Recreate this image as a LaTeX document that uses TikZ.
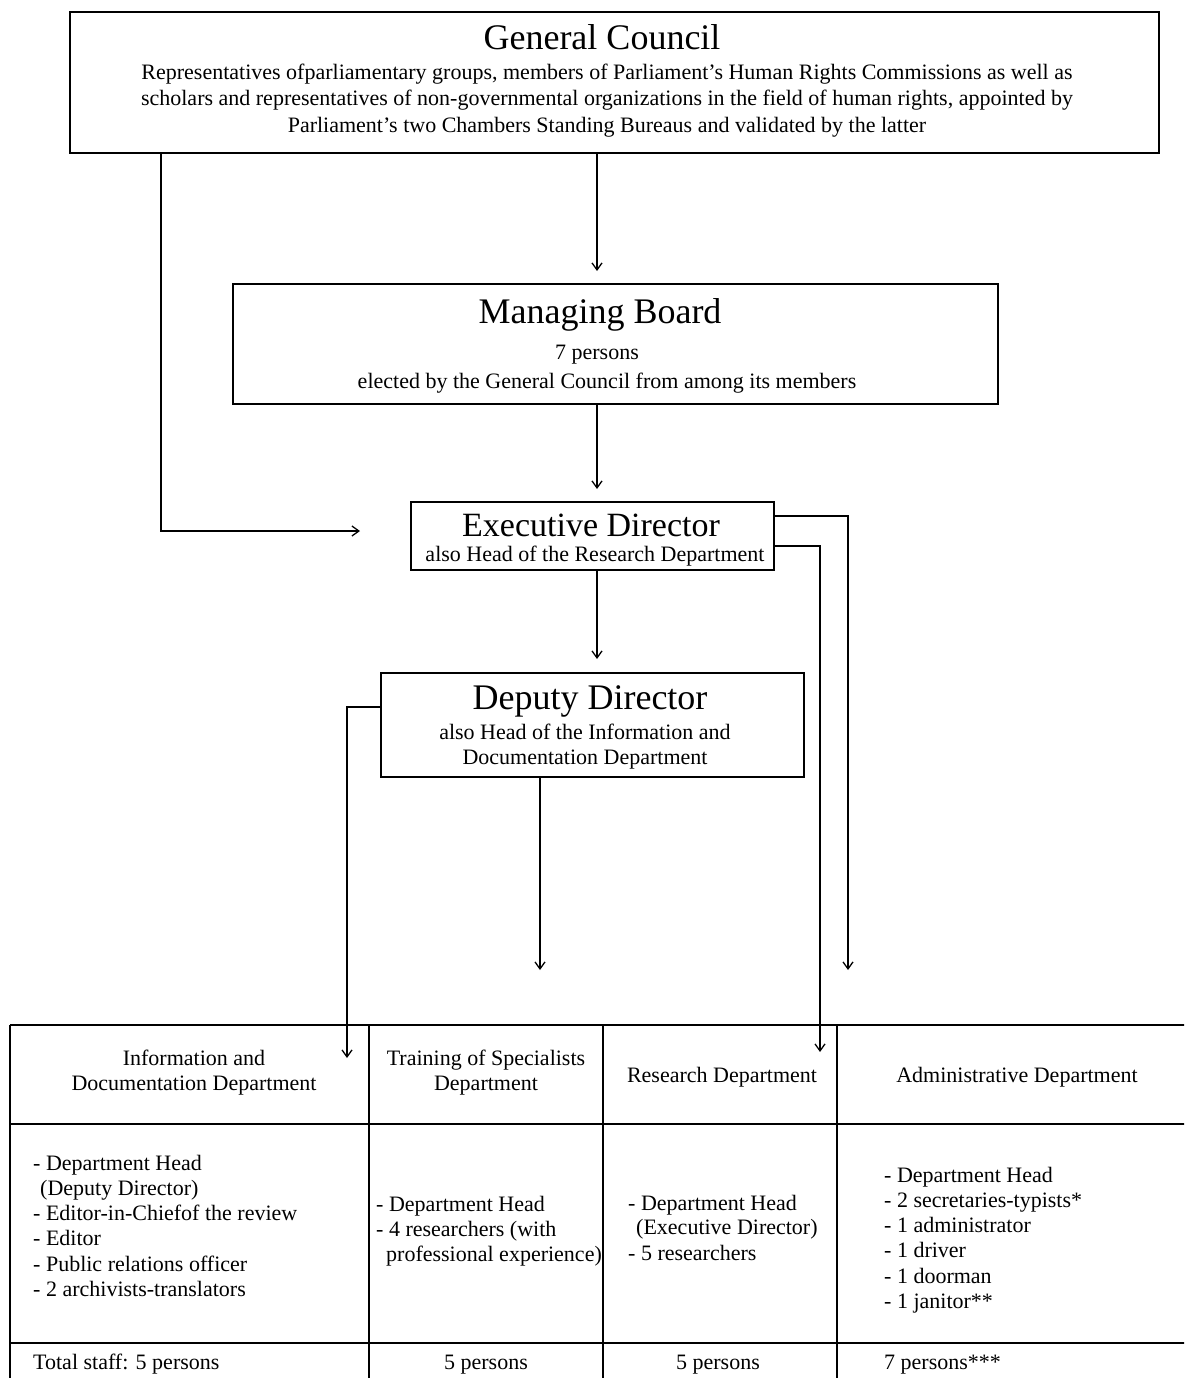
\documentclass[tikz,border=0pt]{standalone}
\usepackage{fontspec}
\setmainfont{Liberation Serif}
\usetikzlibrary{arrows.meta}
\begin{document}
\begin{tikzpicture}[x=1pt,y=-1pt,
  box/.style={draw,line width=1.1pt,rectangle,inner sep=0pt},
  ttl/.style={anchor=base,inner sep=0pt,font=\fontsize{36}{40}\selectfont},
  txt/.style={anchor=base,inner sep=0pt,font=\fontsize{22}{26}\selectfont},
  ltxt/.style={anchor=base west,inner sep=0pt,font=\fontsize{22}{26}\selectfont},
  conn/.style={line width=1.1pt,-{Straight Barb[length=7pt,width=10pt,line width=1.3pt]}},
  thick conn/.style={conn,line width=2pt},
  grid/.style={line width=1.1pt}]
\clip (0,0) rectangle (1184,1378);
\fill[white] (0,0) rectangle (1184,1378);
% boxes
\node[box,minimum width=1089pt,minimum height=141pt] (gc) at (614.5,82.5) {};
\node[box,minimum width=765pt,minimum height=120pt] (mb) at (615.5,344) {};
\node[box,minimum width=363pt,minimum height=68pt] (ed) at (592.5,536) {};
\node[box,minimum width=423pt,minimum height=104pt] (dd) at (592.5,725) {};
% texts
\node[ttl] (gct) at (602,50) {General Council};
\node[txt] (gc1) at (607,80) {Representatives ofparliamentary groups, members of Parliament’s Human Rights Commissions as well as};
\node[txt] (gc2) at (607,106) {scholars and representatives of non-governmental organizations in the field of human rights, appointed by};
\node[txt] (gc3) at (607,132) {Parliament’s two Chambers Standing Bureaus and validated by the latter};
\node[ttl] (mbt) at (600,323) {Managing Board};
\node[txt] (mb1) at (597,359) {7 persons};
\node[txt] (mb2) at (607,388) {elected by the General Council from among its members};
\node[ttl,font=\fontsize{34}{38}\selectfont] (edt) at (591,536) {Executive Director};
\node[txt] (ed1) at (595,561) {also Head of the Research Department};
\node[ttl] (ddt) at (590,709) {Deputy Director};
\node[txt] (dd1) at (585,739) {also Head of the Information and};
\node[txt] (dd2) at (585,764) {Documentation Department};
% table grid
\draw[grid] (10,1025) -- (1200,1025);
\draw[grid] (10,1124) -- (1200,1124);
\draw[grid] (10,1343) -- (1200,1343);
\foreach \x in {10,369,603,837} \draw[grid] (\x,1025) -- (\x,1400);
% header texts
\node[txt] (h1a) at (194,1065) {Information and};
\node[txt] (h1b) at (194,1090) {Documentation Department};
\node[txt] (h2a) at (486,1065) {Training of Specialists};
\node[txt] (h2b) at (486,1090) {Department};
\node[txt] (h3) at (722,1082) {Research Department};
\node[txt] (h4) at (1017,1082) {Administrative Department};
% data column 1
\node[ltxt] (a1) at (33,1170) {- Department Head};
\node[ltxt] (a2) at (40,1195) {(Deputy Director)};
\node[ltxt] (a3) at (33,1220) {- Editor-in-Chiefof the review};
\node[ltxt] (a4) at (33,1245) {- Editor};
\node[ltxt] (a5) at (33,1271) {- Public relations officer};
\node[ltxt] (a6) at (33,1296) {- 2 archivists-translators};
% column 2
\node[ltxt] (b1) at (376,1211) {- Department Head};
\node[ltxt] (b2) at (376,1236) {- 4 researchers (with};
\node[ltxt] (b3) at (386,1261) {professional experience)};
% column 3
\node[ltxt] (c1) at (628,1210) {- Department Head};
\node[ltxt] (c2) at (636,1234) {(Executive Director)};
\node[ltxt] (c3) at (628,1260) {- 5 researchers};
% column 4
\node[ltxt] (d1) at (884,1182) {- Department Head};
\node[ltxt] (d2) at (884,1207) {- 2 secretaries-typists*};
\node[ltxt] (d3) at (884,1232) {- 1 administrator};
\node[ltxt] (d4) at (884,1257) {- 1 driver};
\node[ltxt] (d5) at (884,1283) {- 1 doorman};
\node[ltxt] (d6) at (884,1308) {- 1 janitor**};
% footer
\node[ltxt] (f1) at (33,1369) {Total staff: 5 persons};
\node[txt] (f2) at (486,1369) {5 persons};
\node[txt] (f3) at (718,1369) {5 persons};
\node[ltxt] (f4) at (884,1369) {7 persons***};
% connector end coordinates
\coordinate (eMB) at (597,271);
\coordinate (eED) at (597,489);
\coordinate (eEDl) at (360,531);
\coordinate (eDD) at (597,659);
\coordinate (eInfo) at (347,1058);
\coordinate (eTrain) at (540,970);
\coordinate (eAdmin) at (848,970);
\coordinate (eRes) at (820,1052);
% connectors
\draw[conn] (gc.south -| eMB) -- (eMB);
\draw[conn] (mb.south -| eED) -- (eED);
\draw[conn] (gc.south -| 161,0) -- (161,531) -- (eEDl);
\draw[conn] (ed.south -| eDD) -- (eDD);
\draw[conn] (dd.west |- 0,707) -- (347,707) -- (eInfo);
\draw[conn] (dd.south -| eTrain) -- (eTrain);
\draw[thick conn] (ed.east |- 0,516) -- (848,516) -- (eAdmin);
\draw[conn] (ed.east |- 0,546) -- (820,546) -- (eRes);
\end{tikzpicture}
\end{document}
